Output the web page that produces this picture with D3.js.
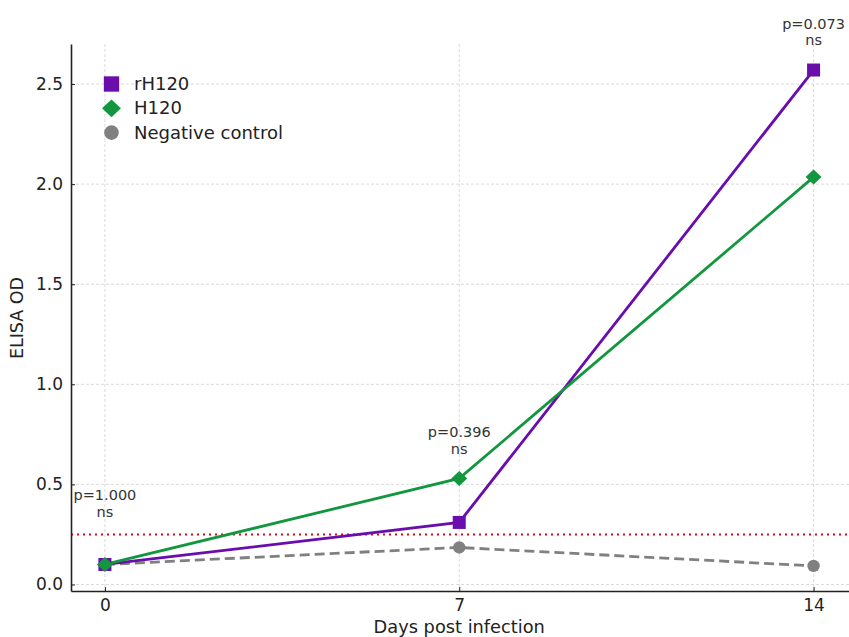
<!DOCTYPE html>
<html>
<head>
<meta charset="utf-8">
<script src="https://cdn.jsdelivr.net/npm/d3@7"></script>
<style>
  html, body { margin: 0; padding: 0; background: #fff; }
  svg { display: block; font-family: "DejaVu Sans", sans-serif; }
</style>
</head>
<body>
<svg id="chart" width="849" height="637"></svg>
<script>
// ELISA OD over days post infection
const days = [0, 7, 14];
const rH120 = [0.10, 0.31, 2.57];
const H120 = [0.10, 0.53, 2.035];
const negativeControl = [0.10, 0.185, 0.093];
const cutoff = 0.25;
const pLabels = ["p=1.000", "p=0.396", "p=0.073"];
const sigLabels = ["ns", "ns", "ns"];
// OD level at which each p-value label sits
const annotationLevels = [0.42, 0.735, 2.775];
const yTicks = [0.0, 0.5, 1.0, 1.5, 2.0, 2.5];

const series = [
  { name: "rH120", values: rH120, color: "#6a0dad", marker: "square", dash: null },
  { name: "H120", values: H120, color: "#12973f", marker: "diamond", dash: null },
  { name: "Negative control", values: negativeControl, color: "#808080", marker: "circle", dash: "10,5" }
];

const svg = d3.select("#chart");
const plotLeft = 71, plotRight = 849, plotTop = 44, plotBottom = 591;

const x = d3.scaleLinear().domain([-0.67, 14.7]).range([plotLeft, plotRight]);
const y = d3.scaleLinear().domain([-0.0325, 2.70]).range([plotBottom, plotTop]);

// grid
const grid = svg.append("g").attr("stroke", "#d0d0d0").attr("stroke-width", 0.8).attr("stroke-dasharray", "3,2");
grid.selectAll("line.gx").data(days).join("line").attr("class", "gx")
  .attr("x1", d => x(d)).attr("x2", d => x(d)).attr("y1", plotTop).attr("y2", plotBottom);
grid.selectAll("line.gy").data(yTicks).join("line").attr("class", "gy")
  .attr("x1", plotLeft).attr("x2", plotRight).attr("y1", d => y(d)).attr("y2", d => y(d));

// cutoff line
svg.append("line")
  .attr("x1", plotLeft).attr("x2", plotRight).attr("y1", y(cutoff)).attr("y2", y(cutoff))
  .attr("stroke", "#c8101a").attr("stroke-width", 2).attr("stroke-dasharray", "2,4");

// axes with inward ticks
const xAxis = d3.axisBottom(x).tickValues(days).tickFormat(d3.format("d"))
  .tickSizeInner(-4).tickSizeOuter(0).tickPadding(8);
const yAxis = d3.axisLeft(y).tickValues(yTicks).tickFormat(d3.format(".1f"))
  .tickSizeInner(-4).tickSizeOuter(0).tickPadding(8);

const gx = svg.append("g").attr("transform", `translate(0,${plotBottom})`).call(xAxis);
const gy = svg.append("g").attr("transform", `translate(${plotLeft},0)`).call(yAxis);
[gx, gy].forEach(g => {
  g.select(".domain").attr("stroke", "#222").attr("stroke-width", 1.6);
  g.selectAll(".tick line").attr("stroke", "#222").attr("stroke-width", 1);
  g.selectAll(".tick text").attr("fill", "#222").style("font-size", "17px").style("font-family", "DejaVu Sans");
});

svg.append("text").attr("x", x(7)).attr("y", 633).attr("text-anchor", "middle")
  .attr("fill", "#222").style("font-size", "17.8px").text("Days post infection");
svg.append("text").attr("transform", `translate(23,318) rotate(-90)`)
  .attr("text-anchor", "middle").attr("fill", "#222").style("font-size", "17.5px").text("ELISA OD");

// lines and markers
const line = d3.line().x((d, i) => x(days[i])).y(d => y(d));
function drawMarker(g, type, cx, cy, color, k) {
  if (type === "square") {
    const h = 6.5 * k;
    g.append("rect").attr("x", cx - h).attr("y", cy - h).attr("width", 2 * h).attr("height", 2 * h).attr("fill", color);
  } else if (type === "diamond") {
    const w = 8 * k, h = 7.5 * k;
    g.append("path").attr("d", `M${cx},${cy - h}L${cx + w},${cy}L${cx},${cy + h}L${cx - w},${cy}Z`).attr("fill", color);
  } else {
    g.append("circle").attr("cx", cx).attr("cy", cy).attr("r", 6.2 * k).attr("fill", color);
  }
}
const drawOrder = [series[2], series[0], series[1]];
drawOrder.forEach(s => {
  svg.append("path").datum(s.values).attr("d", line)
    .attr("fill", "none").attr("stroke", s.color).attr("stroke-width", 2.8)
    .attr("stroke-dasharray", s.dash);
});
drawOrder.forEach(s => {
  const g = svg.append("g");
  s.values.forEach((v, i) => drawMarker(g, s.marker, x(days[i]), y(v), s.color, 1));
});

// p-value annotations
days.forEach((d, i) => {
  const by = y(annotationLevels[i]);
  svg.append("text").attr("x", x(d)).attr("y", by).attr("text-anchor", "middle")
    .attr("fill", "#333").style("font-size", "14.5px").text(pLabels[i]);
  svg.append("text").attr("x", x(d)).attr("y", by + 16.5).attr("text-anchor", "middle")
    .attr("fill", "#333").style("font-size", "14.5px").text(sigLabels[i]);
});

// legend
const legend = svg.append("g");
series.forEach((s, i) => {
  const ly = 84 + i * 24.3;
  drawMarker(legend, s.marker, 111.5, ly, s.color, 1.18);
  legend.append("text").attr("x", 134).attr("y", ly + 6).attr("fill", "#222")
    .style("font-size", "18px").text(s.name);
});
</script>
</body>
</html>
